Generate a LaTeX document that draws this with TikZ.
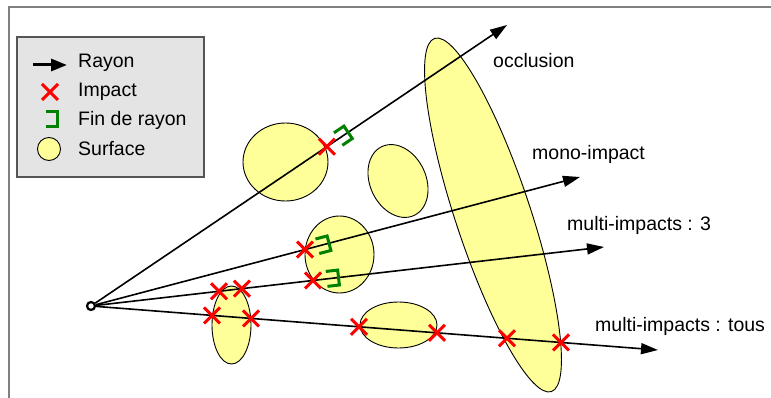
\documentclass[tikz,border=0pt]{standalone}
\usepackage{fontspec}
\setmainfont{Liberation Sans}
\usetikzlibrary{arrows.meta,calc,shapes.misc}
\definecolor{surf}{HTML}{FFFF99}
\definecolor{legbg}{HTML}{E4E4E4}
\definecolor{framegray}{HTML}{808080}
\definecolor{legborder}{HTML}{555555}
\definecolor{impred}{HTML}{FF0000}
\definecolor{endgreen}{HTML}{008000}
\tikzset{
 surface/.style={draw=black, line width=0.9pt, fill=surf},
 ray/.style={draw=black, line width=1.6pt, -{Triangle[length=17pt,width=11pt]}},
 impact/.style={cross out, draw=impred, line width=3pt, minimum size=13pt, inner sep=0pt},
 lbl/.style={anchor=base west, inner sep=0pt, font=\fontsize{19.5}{23}\selectfont},
 endmark/.pic={\draw[endgreen, line width=3pt] (-12,7.5)--(0,7.5)--(0,-7.5)--(-12,-7.5);},
}
\begin{document}
\begin{tikzpicture}[x=1pt,y=-1pt]
\useasboundingbox (0,0) rectangle (771,398);
% frame
\draw[framegray, line width=1.6pt] (9,398) -- (9,7) -- (771,7);
% legend
\draw[draw=legborder, line width=1.3pt, fill=legbg] (17,37) rectangle (204,177);
\coordinate (la1) at (33,65);
\coordinate (la2) at (67,65);
\draw[black, line width=3pt, -{Triangle[length=16pt,width=12pt]}] (la1) -- (la2);
\node[impact] (legX) at (50,92) {};
\pic at (57.5,119) {endmark};
\node[circle, surface, minimum size=23pt, inner sep=0pt] (legS) at (49,149) {};
\node[lbl] (tRayon) at (78,67.5) {Rayon};
\node[lbl] (tImpact) at (78,96.7) {Impact};
\node[lbl] (tFin) at (78,125.5) {Fin de rayon};
\node[lbl] (tSurf) at (78,156) {Surface};
% surfaces
\draw[surface] (285.5,162) ellipse [x radius=42.5, y radius=39];
\draw[surface, rotate around={25:(398,181)}] (398,181) ellipse [x radius=28, y radius=38];
\draw[surface] (339.5,254.5) ellipse [x radius=34.5, y radius=38.5];
\draw[surface] (231.5,325) ellipse [x radius=19.5, y radius=39];
\draw[surface] (398.5,325) ellipse [x radius=38.5, y radius=23];
\draw[surface, rotate around={18.3:(493,215)}] (493,215) ellipse [x radius=37.6, y radius=186];
% origin and rays
\node[circle, draw=black, fill=white, line width=2.2pt, minimum size=8pt, inner sep=0pt] (O) at (91,306) {};
\coordinate (R1) at (507,25);
\coordinate (R2) at (580,177);
\coordinate (R3) at (604,247);
\coordinate (R4) at (658,350);
\draw[ray] (O) -- (R1);
\draw[ray] (O) -- (R2);
\draw[ray] (O) -- (R3);
\draw[ray] (O) -- (R4);
% impacts
\node[impact] (i11) at ($(O)!0.567!(R1)$) {};
\node[impact] (i21) at ($(O)!0.4376!(R2)$) {};
\node[impact] (i31) at ($(O)!0.2495!(R3)$) {};
\node[impact] (i32) at ($(O)!0.2943!(R3)$) {};
\node[impact] (i33) at ($(O)!0.4327!(R3)$) {};
\node[impact] (i41) at ($(O)!0.2134!(R4)$) {};
\node[impact] (i42) at ($(O)!0.2822!(R4)$) {};
\node[impact] (i43) at ($(O)!0.4727!(R4)$) {};
\node[impact] (i44) at ($(O)!0.6102!(R4)$) {};
\node[impact] (i45) at ($(O)!0.7337!(R4)$) {};
\node[impact] (i46) at ($(O)!0.8289!(R4)$) {};
% ray ends
\pic[rotate=34.04] at ($(O)!0.618!(R1)$) {endmark};
\pic[rotate=14.78] at ($(O)!0.4867!(R2)$) {endmark};
\pic[rotate=6.56] at ($(O)!0.4825!(R3)$) {endmark};
% labels
\node[lbl] (tOcc) at (493,67.5) {occlusion};
\node[lbl] (tMono) at (532,159.5) {mono-impact};
\node[lbl] (tM3) at (567,230) {multi-impacts : 3};
\node[lbl] (tMt) at (595,331.5) {multi-impacts : tous};
\end{tikzpicture}
\end{document}
